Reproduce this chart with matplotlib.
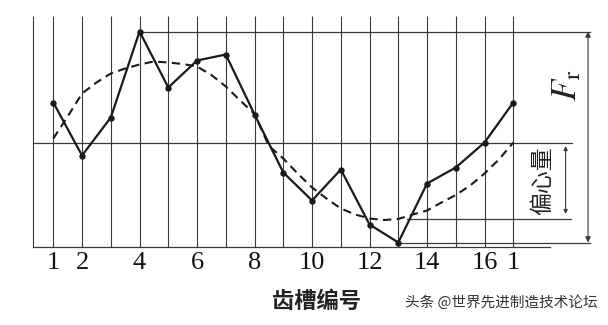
import matplotlib
matplotlib.use("Agg")
import matplotlib.pyplot as plt
import numpy as np

# ---- data -------------------------------------------------------------
slots = list(range(1, 18))                      # slot positions (17 = back to slot 1)
runout = [4.0, -1.3, 2.5, 11.1, 5.5, 8.2, 8.8, 2.8, -3.0,
          -5.8, -2.7, -8.2, -10.0, -4.1, -2.5, 0.0, 4.0]
tick_pos = [1, 2, 4, 6, 8, 10, 12, 14, 16, 17]
tick_labels = ["1", "2", "4", "6", "8", "10", "12", "14", "16", "1"]

# dashed eccentricity curve, read at half-slot steps
ecc_pos = [1, 1.5, 2, 2.5, 3, 3.5, 4, 4.5, 5, 5.5, 6, 6.5, 7, 7.5, 8, 8.5,
           9, 9.5, 10, 10.5, 11, 11.5, 12, 12.5, 13, 13.5, 14, 14.5, 15, 15.5,
           16, 16.5, 17]
ecc_val = [0.4, 2.6, 4.9, 6.0, 6.9, 7.4, 7.8, 8.1, 8.0, 7.85, 7.6, 6.75, 5.6,
           4.2, 2.85, -0.35, -1.6, -3.1, -4.5, -5.6, -6.6, -7.2, -7.6, -7.75,
           -7.65, -7.2, -6.8, -6.0, -5.25, -4.3, -3.1, -1.7, 0.0]
ecc_low = -7.6

xlabel = "齿槽编号"
ecc_label = "偏心量"
watermark = "头条 @世界先进制造技术论坛"

# ---- figure -----------------------------------------------------------
W, H = 608, 325
fig = plt.figure(figsize=(W / 100, H / 100), dpi=100)
ax = fig.add_axes([0, 0, 1, 1])
ax.axis("off")
# pixel mapping: x_pix = 53.3 + (p-1)*28.75 ; y_pix = 142.5 - 10*v
ax.set_xlim(1 - 53.3 / 28.75, 1 + (W - 53.3) / 28.75)
ax.set_ylim(-(H - 142.5) / 10, 142.5 / 10)

gcol = "#3a3a3a"
lcol = "#1a1a1a"
vmax, vmin = max(runout), min(runout)
i_max, i_min = slots[runout.index(vmax)], slots[runout.index(vmin)]

frame_left = 0.28
frame_bottom = -10.45
grid_top = 12.65

# vertical grid lines
for p in [frame_left] + slots:
    ax.plot([p, p], [frame_bottom, grid_top], color=gcol, lw=0.8,
            solid_capstyle="butt", zorder=1)
# bottom frame
ax.plot([frame_left, 18.27], [frame_bottom, frame_bottom], color=gcol, lw=0.9, zorder=1)
# middle (zero) line
ax.plot([frame_left, 19.05], [0, 0], color=gcol, lw=0.9, zorder=1)
# max / min lines
ax.plot([i_max, 19.67], [vmax, vmax], color=gcol, lw=0.9, zorder=1)
ax.plot([i_min, 19.67], [vmin, vmin], color=gcol, lw=0.9, zorder=1)
# lower eccentricity line
ax.plot([13.3, 19.0], [ecc_low, ecc_low], color=gcol, lw=0.9, zorder=1)

# dashed eccentricity curve
ax.plot(ecc_pos, ecc_val, color=lcol, lw=1.5, ls=(0, (4, 2.6)), zorder=2)

# measured runout
ax.plot(slots, runout, color=lcol, lw=1.6, marker="o", ms=3.6, zorder=3)

# arrows
arr = dict(arrowstyle="<|-|>", color=gcol, lw=0.8, mutation_scale=8,
           shrinkA=0, shrinkB=0)
ax.annotate("", xy=(19.6, vmax), xytext=(19.6, vmin), arrowprops=arr)
ax.annotate("", xy=(18.82, -0.35), xytext=(18.82, ecc_low + 0.45),
            arrowprops=dict(arr, mutation_scale=6))

# labels
ax.text(18.02, -3.85, ecc_label, rotation=90, ha="center", va="center",
        fontsize=16.5, family=["Noto Sans CJK SC", "DejaVu Sans"], color="#222")
ax.text(18.85, 5.7, r"$F_{\mathrm{r}}$", rotation=90, ha="center", va="center",
        fontsize=25, math_fontfamily="stix", color="#222")

for p, t in zip(tick_pos, tick_labels):
    ax.text(p, -12.05, t, ha="center", va="center", fontsize=19,
            family="Liberation Serif", color="#111")

ax.text(10.16, -15.9, xlabel, ha="center", va="center", fontsize=16,
        fontweight="bold", family=["Noto Sans CJK SC", "DejaVu Sans"], color="#222")
ax.text(1 + (598 - 53.3) / 28.75, -15.95, watermark, ha="right", va="center",
        fontsize=10.5, family=["Noto Sans CJK SC", "DejaVu Sans"], color="#333")

fig.savefig("out.png", dpi=100, facecolor="white")
